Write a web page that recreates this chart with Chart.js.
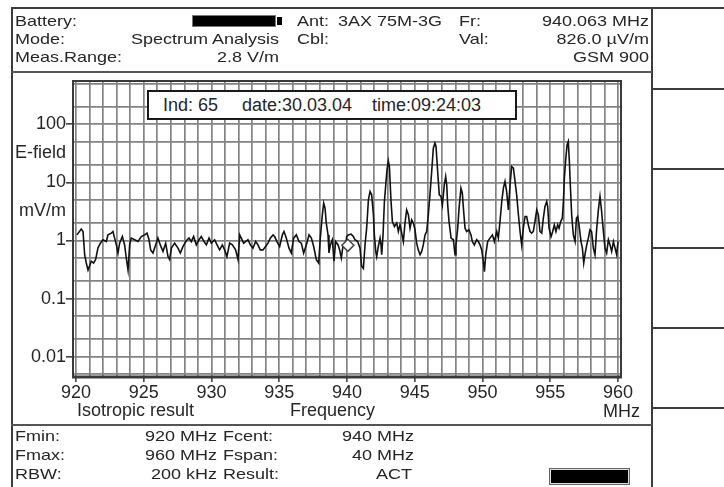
<!DOCTYPE html>
<html>
<head>
<meta charset="utf-8">
<title>Spectrum Analysis</title>
<script src="https://cdn.jsdelivr.net/npm/chart.js@4.4.1/dist/chart.umd.min.js"></script>
<style>
  html, body { margin: 0; padding: 0; background: #fff; }
  body { width: 724px; height: 487px; position: relative; overflow: hidden;
         font-family: "Liberation Sans", Arial, sans-serif; color: #262626; }
  #spectrum { position: absolute; left: 0; top: 0; }
  .ln { position: absolute; background: #3c3c3c; }
  .txt { position: absolute; font-size: 18px; line-height: 18px; white-space: nowrap; }
  .sq { transform: scaleY(0.82); }
  .ind { position: absolute; left: 147px; top: 90px; width: 370px; height: 30px;
         box-sizing: border-box; border: 2px solid #1a1a1a; background: #fff; }
  .batt { position: absolute; left: 192px; top: 15px; width: 84px; height: 12px;
          box-sizing: border-box; background: #000; border: 1px solid #777; }
  .nub { position: absolute; left: 277px; top: 17px; width: 5px; height: 8px; background: #000; }
  .bar { position: absolute; left: 549px; top: 468px; width: 81px; height: 17px;
         box-sizing: border-box; background: #000; border: 1px solid #666;
         box-shadow: inset 0 0 0 1px #ddd; }
</style>
</head>
<body>
<canvas id="spectrum" width="724" height="487"></canvas>

<!-- frame -->
<div class="ln" style="left:11px;top:7px;width:713px;height:2px"></div>
<div class="ln" style="left:11px;top:7px;width:2px;height:480px"></div>
<div class="ln" style="left:651px;top:7px;width:2px;height:480px"></div>
<div class="ln" style="left:11px;top:71px;width:641px;height:2px;background:#555"></div>
<div class="ln" style="left:11px;top:424px;width:641px;height:2px;background:#555"></div>
<div class="ln" style="left:652px;top:88px;width:72px;height:2px"></div>
<div class="ln" style="left:652px;top:168px;width:72px;height:2px"></div>
<div class="ln" style="left:652px;top:247px;width:72px;height:2px"></div>
<div class="ln" style="left:652px;top:327px;width:72px;height:2px"></div>
<div class="ln" style="left:652px;top:407px;width:72px;height:2px"></div>

<!-- header -->
<span class="txt sq" style="left:15px;top:12px">Battery:</span>
<div class="batt"></div><div class="nub"></div>
<span class="txt sq" style="left:297px;top:12px">Ant:</span>
<span class="txt sq" style="left:338px;top:12px">3AX 75M-3G</span>
<span class="txt sq" style="left:459px;top:12px">Fr:</span>
<span class="txt sq" style="right:75px;top:12px">940.063 MHz</span>

<span class="txt sq" style="left:15px;top:30px">Mode:</span>
<span class="txt sq" style="right:445px;top:30px">Spectrum Analysis</span>
<span class="txt sq" style="left:297px;top:30px">Cbl:</span>
<span class="txt sq" style="left:459px;top:30px">Val:</span>
<span class="txt sq" style="right:75px;top:30px">826.0 µV/m</span>

<span class="txt sq" style="left:15px;top:48px">Meas.Range:</span>
<span class="txt sq" style="right:445px;top:48px">2.8 V/m</span>
<span class="txt sq" style="right:75px;top:48px">GSM 900</span>

<!-- indicator box -->
<div class="ind"></div>
<span class="txt" style="left:163px;top:96px">Ind: 65</span>
<span class="txt" style="left:242px;top:96px">date:30.03.04</span>
<span class="txt" style="left:372px;top:96px">time:09:24:03</span>

<!-- axis captions -->
<span class="txt" style="left:77px;top:401px">Isotropic result</span>
<span class="txt" style="left:290px;top:401px">Frequency</span>
<span class="txt" style="left:603px;top:402px">MHz</span>

<!-- footer -->
<span class="txt sq" style="left:15px;top:427px">Fmin:</span>
<span class="txt sq" style="right:507px;top:427px">920 MHz</span>
<span class="txt sq" style="left:223px;top:427px">Fcent:</span>
<span class="txt sq" style="right:310px;top:427px">940 MHz</span>

<span class="txt sq" style="left:15px;top:446px">Fmax:</span>
<span class="txt sq" style="right:507px;top:446px">960 MHz</span>
<span class="txt sq" style="left:223px;top:446px">Fspan:</span>
<span class="txt sq" style="right:310px;top:446px">40 MHz</span>

<span class="txt sq" style="left:15px;top:465px">RBW:</span>
<span class="txt sq" style="right:507px;top:465px">200 kHz</span>
<span class="txt sq" style="left:223px;top:465px">Result:</span>
<span class="txt sq" style="right:312px;top:465px">ACT</span>
<div class="bar"></div>

<script>
// trace, MHz / mV/m
const freqMHz = [
  920.07, 920.39, 920.52, 920.64, 920.76, 920.89, 921.13, 921.30, 921.45, 921.62,
  921.80, 921.99, 922.24, 922.36, 922.61, 922.73, 922.85, 922.98, 923.10, 923.22,
  923.42, 923.59, 923.71, 923.84, 923.96, 924.08, 924.33, 924.58, 924.82, 925.07,
  925.24, 925.39, 925.51, 925.68, 925.88, 926.05, 926.22, 926.42, 926.62, 926.79,
  926.91, 927.04, 927.28, 927.53, 927.70, 927.90, 928.14, 928.34, 928.51, 928.68,
  928.88, 929.08, 929.25, 929.45, 929.62, 929.82, 929.99, 930.23, 930.41, 930.60,
  930.80, 930.97, 931.14, 931.34, 931.54, 931.78, 931.96, 932.08, 932.20, 932.37,
  932.52, 932.69, 932.87, 933.06, 933.26, 933.43, 933.60, 933.80, 933.99, 934.17,
  934.34, 934.54, 934.66, 934.83, 935.03, 935.23, 935.35, 935.52, 935.72, 935.89,
  936.06, 936.26, 936.46, 936.63, 936.80, 937.00, 937.20, 937.37, 937.54, 937.74,
  937.91, 938.03, 938.18, 938.28, 938.38, 938.47, 938.60, 938.67, 938.77, 938.92,
  939.04, 939.16, 939.34, 939.46, 939.58, 939.70, 939.90, 939.98, 940.10, 940.30,
  940.47, 940.59, 940.79, 940.96, 941.08, 941.21, 941.33, 941.45, 941.58, 941.70,
  941.82, 941.95, 942.02, 942.12, 942.19, 942.31, 942.44, 942.51, 942.56, 942.66,
  942.76, 942.86, 942.95, 943.05, 943.13, 943.18, 943.25, 943.35, 943.50, 943.67,
  943.79, 943.91, 944.04, 944.16, 944.28, 944.40, 944.53, 944.65, 944.77, 944.90,
  945.02, 945.14, 945.26, 945.39, 945.51, 945.63, 945.76, 945.88, 946.00, 946.12,
  946.25, 946.37, 946.49, 946.57, 946.69, 946.81, 946.94, 947.04, 947.11, 947.18,
  947.28, 947.36, 947.43, 947.53, 947.68, 947.85, 947.97, 948.04, 948.17, 948.27,
  948.41, 948.51, 948.61, 948.71, 948.83, 949.00, 949.15, 949.25, 949.40, 949.57,
  949.69, 949.82, 949.94, 950.06, 950.14, 950.24, 950.38, 950.55, 950.73, 950.88,
  951.05, 951.17, 951.29, 951.42, 951.54, 951.66, 951.78, 951.91, 952.03, 952.15,
  952.28, 952.40, 952.52, 952.65, 952.77, 952.89, 953.01, 953.14, 953.26, 953.38,
  953.51, 953.63, 953.75, 953.87, 954.00, 954.12, 954.24, 954.37, 954.49, 954.61,
  954.74, 954.81, 954.91, 955.06, 955.18, 955.30, 955.42, 955.55, 955.65, 955.77,
  955.89, 955.97, 956.04, 956.14, 956.24, 956.33, 956.41, 956.48, 956.58, 956.70,
  956.83, 956.93, 957.02, 957.12, 957.27, 957.37, 957.47, 957.56, 957.69, 957.81,
  957.93, 958.05, 958.18, 958.30, 958.43, 958.55, 958.67, 958.79, 958.92, 959.04,
  959.16, 959.29, 959.41, 959.53, 959.66, 959.78, 959.90, 960.00
];
const fieldMVm = [
  1.25, 1.57, 1.43, 0.57, 0.41, 0.31, 0.44, 0.41, 0.47, 0.74,
  0.90, 1.03, 0.96, 1.25, 1.34, 1.43, 1.10, 0.84, 0.61, 0.90,
  1.17, 0.84, 0.50, 0.31, 0.84, 1.10, 1.03, 0.96, 1.17, 1.25,
  1.34, 1.03, 0.69, 0.61, 0.84, 1.10, 0.84, 0.65, 0.90, 0.53,
  0.47, 0.74, 0.90, 0.74, 0.61, 0.79, 0.99, 1.10, 0.96, 1.17,
  0.84, 1.03, 1.17, 0.96, 0.84, 1.10, 0.90, 1.03, 0.84, 0.69,
  0.84, 0.69, 0.53, 0.90, 0.84, 0.69, 0.47, 1.25, 1.10, 0.90,
  0.96, 1.03, 0.84, 0.74, 0.96, 0.84, 0.69, 0.69, 0.79, 0.90,
  1.10, 1.25, 1.17, 0.96, 0.79, 1.25, 1.43, 1.10, 0.74, 0.61,
  1.10, 1.25, 0.96, 0.90, 0.61, 0.84, 1.25, 1.10, 0.79, 0.47,
  0.41, 1.10, 2.77, 4.39, 3.60, 1.99, 1.25, 0.61, 0.84, 1.03,
  0.44, 0.96, 0.84, 0.69, 0.50, 0.79, 0.84, 1.17, 1.25, 1.29,
  1.17, 1.03, 0.96, 0.74, 0.36, 0.33, 0.84, 1.63, 5.01, 6.97,
  6.11, 2.77, 1.25, 0.65, 0.53, 0.79, 1.10, 0.84, 0.57, 1.25,
  4.69, 9.08, 16.5, 23.5, 18.8, 10.4, 4.69, 2.12, 1.74, 1.99,
  1.43, 1.86, 1.34, 0.96, 1.99, 3.37, 2.77, 1.63, 2.27, 1.99,
  1.53, 0.90, 0.69, 0.57, 0.65, 0.84, 1.25, 1.43, 2.77, 6.11,
  15.4, 38.8, 47.3, 41.5, 15.4, 6.11, 5.72, 4.11, 6.11, 9.08,
  12.6, 9.08, 4.11, 2.12, 1.10, 1.03, 0.57, 0.84, 1.63, 3.60,
  7.96, 6.53, 3.16, 1.63, 1.43, 1.53, 1.25, 0.96, 0.84, 1.03,
  0.96, 0.84, 0.69, 0.44, 0.29, 0.57, 0.96, 1.10, 1.25, 0.96,
  1.43, 1.10, 2.12, 4.69, 7.96, 10.4, 6.97, 3.37, 9.08, 18.8,
  17.6, 10.4, 6.11, 2.77, 1.43, 0.84, 1.63, 2.59, 2.59, 1.86,
  1.43, 1.34, 1.43, 2.12, 3.37, 2.77, 1.43, 1.34, 2.42, 3.85,
  4.69, 3.85, 1.63, 1.17, 1.43, 1.86, 1.43, 1.86, 1.63, 2.12,
  2.42, 4.69, 11.8, 24.5, 44.3, 50.6, 22.9, 9.08, 2.77, 1.25,
  0.96, 2.42, 2.59, 1.86, 0.96, 0.74, 0.41, 0.57, 0.84, 1.10,
  1.53, 1.43, 0.74, 0.57, 1.63, 3.37, 5.72, 3.16, 1.43, 0.74,
  0.61, 1.03, 0.84, 0.65, 0.96, 0.74, 0.57, 0.96
];

// marker (Fr / Val in the header)
const markerFreq = [940.063];
const markerField = [0.826];

// axes
const xLabelTicks = [920, 925, 930, 935, 940, 945, 950, 955, 960];
const yGridTicks = [0.005, 0.01, 0.02, 0.05, 0.1, 0.2, 0.5, 1, 2, 5, 10, 20, 50, 100, 200, 500];
const yDecadeTicks = [0.01, 0.1, 1, 10, 100];
const yDecadeLabels = ["0.01", "0.1", "1", "10", "100"];
const yUnitTicks = [31.62, 3.162];
const yUnitLabels = ["E-field", "mV/m"];

const xGridTicks = [];
for (let f = 920; f <= 960; f += 1) xGridTicks.push(f);

const FONT = '"Liberation Sans", Arial, sans-serif';
Chart.defaults.font.family = FONT;
Chart.defaults.color = "#262626";

const plotFrame = {
  id: "plotFrame",
  afterDraw(chart) {
    const { ctx, chartArea: a } = chart;
    ctx.save();
    ctx.strokeStyle = "#3a3a3a";
    ctx.lineWidth = 2;
    ctx.strokeRect(a.left, a.top, a.right - a.left, a.bottom - a.top);
    ctx.lineWidth = 3;
    ctx.beginPath();
    ctx.moveTo(a.left - 1, a.bottom);
    ctx.lineTo(a.right + 1, a.bottom);
    ctx.stroke();
    ctx.restore();
  },
};

const isDecade = (v) => yDecadeTicks.some((d) => Math.abs(d - v) < d * 1e-6);
const unitIndex = (v) => yUnitTicks.findIndex((d) => Math.abs(d - v) < d * 1e-6);

new Chart(document.getElementById("spectrum"), {
  type: "line",
  data: {
    datasets: [{
      data: freqMHz.map((f, i) => ({ x: f, y: fieldMVm[i] })),
      borderColor: "#111",
      borderWidth: 1.6,
      pointRadius: 0,
      tension: 0,
      order: 1,
    }, {
      data: markerFreq.map((f, i) => ({ x: f, y: markerField[i] })),
      showLine: false,
      pointStyle: "rectRot",
      pointRadius: 6,
      borderColor: "#444",
      backgroundColor: "#fff",
      borderWidth: 1.5,
      order: 0,
    }],
  },
  options: {
    responsive: false,
    animation: false,
    events: [],
    layout: { padding: { left: 12, top: 81, right: 103, bottom: 80 } },
    plugins: { legend: { display: false }, tooltip: { enabled: false } },
    scales: {
      x: {
        type: "linear",
        bounds: "data",
        min: 919.78,
        max: 960.22,
        afterBuildTicks(scale) { scale.ticks = xGridTicks.map((v) => ({ value: v })); },
        afterFit(scale) { scale.height = 30; },
        border: { display: false },
        grid: {
          color: "#838383",
          lineWidth: 1.7,
          tickLength: 5,
          tickWidth: 1.5,
          tickColor: (c) => (xLabelTicks.includes(c.tick.value) ? "#333" : "rgba(0,0,0,0)"),
        },
        ticks: {
          autoSkip: false,
          maxRotation: 0,
          padding: 0,
          font: { family: FONT, size: 18 },
          callback: (v) => (xLabelTicks.includes(v) ? String(v) : ""),
        },
      },
      y: {
        type: "logarithmic",
        bounds: "data",
        min: 0.00448,
        max: 556,
        afterBuildTicks(scale) {
          scale.ticks = yGridTicks.concat(yUnitTicks).sort((a, b) => a - b).map((v) => ({ value: v }));
        },
        afterFit(scale) { scale.width = 61; },
        border: { display: false },
        grid: {
          color: (c) => (unitIndex(c.tick.value) >= 0 ? "rgba(0,0,0,0)" : "#838383"),
          lineWidth: 1.7,
          tickLength: 7,
          tickWidth: 1.5,
          tickColor: (c) => (isDecade(c.tick.value) ? "#333" : "rgba(0,0,0,0)"),
        },
        ticks: {
          autoSkip: false,
          padding: 0,
          font: { family: FONT, size: 18 },
          callback: (v) => {
            const u = unitIndex(v);
            if (u >= 0) return yUnitLabels[u];
            const d = yDecadeTicks.findIndex((t) => Math.abs(t - v) < t * 1e-6);
            return d >= 0 ? yDecadeLabels[d] : "";
          },
        },
      },
    },
  },
  plugins: [plotFrame],
});
</script>
</body>
</html>
